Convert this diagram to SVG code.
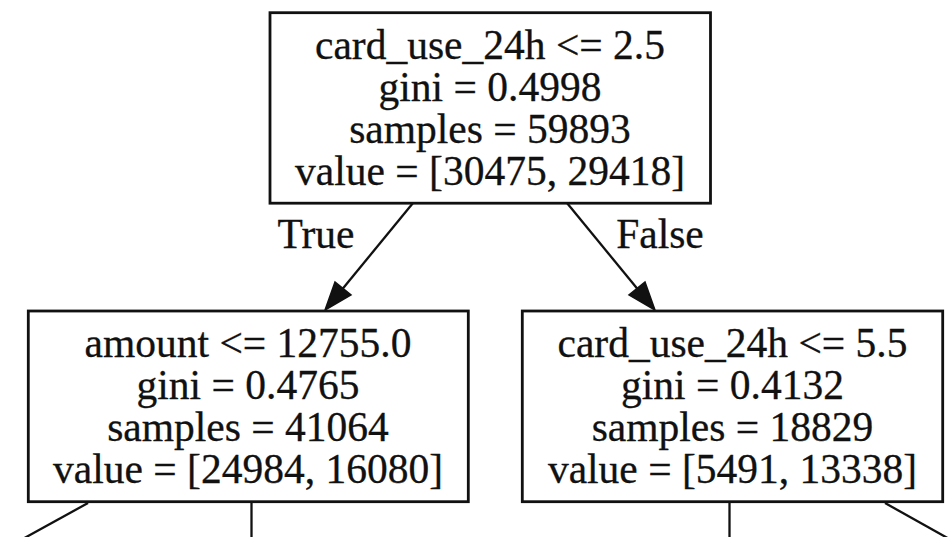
<svg xmlns="http://www.w3.org/2000/svg" width="951" height="537" viewBox="0 0 951 537">
<defs>
<style>
.box{fill:#fff;stroke:#111;stroke-width:2.8}
.t{font-family:"Liberation Serif","Times New Roman",serif;font-size:41.5px;fill:#111;stroke:#111;stroke-width:0.3;text-anchor:middle}
.e{stroke:#111;stroke-width:2.3;fill:none}
.ah{fill:#111;stroke:#111;stroke-width:1.5}
</style>
</defs>
<rect width="951" height="537" fill="#fff"/>
<g id="connectors">
<line class="e" x1="413" y1="203" x2="340" y2="292"/>
<polygon class="ah" points="325,310 351,295 335,282"/>
<text class="t" x="316" y="248">True</text>
<line class="e" x1="567" y1="203" x2="640" y2="292"/>
<polygon class="ah" points="655,310 629,295 645,282"/>
<text class="t" x="660" y="248">False</text>
<line class="e" x1="88" y1="503" x2="10" y2="546"/>
<line class="e" x1="251.5" y1="503" x2="251.5" y2="545"/>
<line class="e" x1="729.5" y1="503" x2="729.5" y2="545"/>
<line class="e" x1="885" y1="503" x2="960" y2="545"/>
</g>
<g id="node0">
<rect class="box" x="270" y="12.7" width="440.5" height="190.5"/>
<text class="t" x="490" y="59">card_use_24h &lt;= 2.5</text>
<text class="t" x="490" y="101">gini = 0.4998</text>
<text class="t" x="490" y="143">samples = 59893</text>
<text class="t" x="490" y="185">value = [30475, 29418]</text>
</g>
<g id="node1">
<rect class="box" x="28.3" y="311" width="440" height="190.7"/>
<text class="t" x="248" y="357">amount &lt;= 12755.0</text>
<text class="t" x="248" y="399">gini = 0.4765</text>
<text class="t" x="248" y="441">samples = 41064</text>
<text class="t" x="248" y="483">value = [24984, 16080]</text>
</g>
<g id="node2">
<rect class="box" x="522.3" y="311" width="420.4" height="190.7"/>
<text class="t" x="732.5" y="357">card_use_24h &lt;= 5.5</text>
<text class="t" x="732.5" y="399">gini = 0.4132</text>
<text class="t" x="732.5" y="441">samples = 18829</text>
<text class="t" x="732.5" y="483">value = [5491, 13338]</text>
</g>
</svg>
